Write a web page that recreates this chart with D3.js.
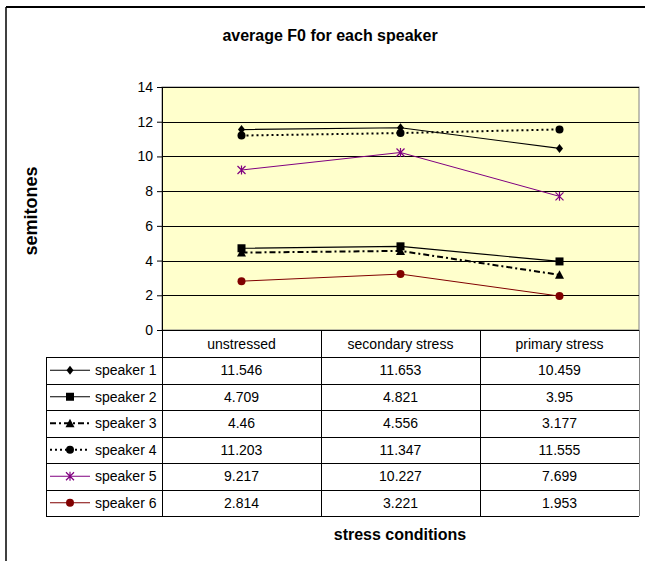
<!DOCTYPE html>
<html><head><meta charset="utf-8">
<script src="https://cdn.jsdelivr.net/npm/d3@7/dist/d3.min.js"></script>
<style>
html,body{margin:0;padding:0;background:#fff;}
svg{display:block;font-family:"Liberation Sans",Arial,sans-serif;}
</style></head>
<body>
<svg id="c" width="645" height="561"></svg>
<script>
const categories = ["unstressed", "secondary stress", "primary stress"];
const seriesNames = ["speaker 1", "speaker 2", "speaker 3", "speaker 4", "speaker 5", "speaker 6"];
const speaker1 = [11.546, 11.653, 10.459];
const speaker2 = [4.709, 4.821, 3.95];
const speaker3 = [4.46, 4.556, 3.177];
const speaker4 = [11.203, 11.347, 11.555];
const speaker5 = [9.217, 10.227, 7.699];
const speaker6 = [2.814, 3.221, 1.953];
const yTicks = [0, 2, 4, 6, 8, 10, 12, 14];

const styles = [
  {color:"#000", dash:null, marker:"diamond", w:1.2},
  {color:"#000", dash:null, marker:"square", w:1.2},
  {color:"#000", dash:"6,3,2,3", marker:"triangle", w:2},
  {color:"#000", dash:"2,3", marker:"circle", w:2},
  {color:"#800080", dash:null, marker:"asterisk", w:1},
  {color:"#800000", dash:null, marker:"circle", w:1}
];
const allSeries = [speaker1, speaker2, speaker3, speaker4, speaker5, speaker6];

const svg = d3.select("#c");
// outer frame (cropped)
svg.append("line").attr("x1",6).attr("x2",645).attr("y1",7).attr("y2",7).attr("stroke","#000").attr("stroke-width",2);
svg.append("line").attr("x1",6).attr("x2",6).attr("y1",7).attr("y2",561).attr("stroke","#000").attr("stroke-width",1.5);

const L = 162, R = 639, T = 87, B = 330;
const x = d3.scaleBand().domain(categories).range([L, R]);
const y = d3.scaleLinear().domain([0, 14]).range([B, T]);

svg.append("rect").attr("x",L).attr("y",T).attr("width",R-L).attr("height",B-T).attr("fill","#ffffcc").attr("stroke","#808080").attr("stroke-width",1);

// gridlines
svg.append("g").selectAll("line").data(yTicks.filter(d=>d>0)).join("line")
  .attr("x1",L).attr("x2",R).attr("y1",d=>Math.round(y(d))+0.5).attr("y2",d=>Math.round(y(d))+0.5)
  .attr("stroke","#000").attr("stroke-width",1);

// y axis
const yAxis = d3.axisLeft(y).tickValues(yTicks).tickSize(5).tickPadding(4);
const gy = svg.append("g").attr("transform",`translate(${L},0)`).call(yAxis);
gy.select(".domain").attr("stroke","#000");
gy.selectAll("text").attr("font-size",14).attr("fill","#000").attr("font-family","Liberation Sans, Arial, sans-serif");
gy.selectAll("line").attr("stroke","#000");

// markers
function drawMarker(g, type, cx, cy, color){
  if(type==="diamond"){
    g.append("path").attr("d",`M${cx},${cy-4.5}L${cx+3.5},${cy}L${cx},${cy+4.5}L${cx-3.5},${cy}Z`).attr("fill",color);
  } else if(type==="square"){
    g.append("rect").attr("x",cx-4).attr("y",cy-4).attr("width",8).attr("height",8).attr("fill",color);
  } else if(type==="triangle"){
    g.append("path").attr("d",`M${cx},${cy-4.5}L${cx+4.5},${cy+4}L${cx-4.5},${cy+4}Z`).attr("fill",color);
  } else if(type==="circle"){
    g.append("circle").attr("cx",cx).attr("cy",cy).attr("r",4).attr("fill",color);
  } else if(type==="asterisk"){
    const r=4;
    g.append("path").attr("d",`M${cx-r},${cy-r}L${cx+r},${cy+r}M${cx-r},${cy+r}L${cx+r},${cy-r}M${cx},${cy-r-0.5}L${cx},${cy+r+0.5}`)
      .attr("stroke",color).attr("stroke-width",1.2).attr("fill","none");
  }
}

const line = d3.line().x((d,i)=>x(categories[i])+x.bandwidth()/2).y(d=>y(d));
const plotG = svg.append("g");
allSeries.forEach((vals, si)=>{
  const st = styles[si];
  plotG.append("path").attr("d", line(vals)).attr("fill","none").attr("stroke",st.color)
    .attr("stroke-width",st.w).attr("stroke-dasharray",st.dash);
});
allSeries.forEach((vals, si)=>{
  const st = styles[si];
  vals.forEach((v,i)=>drawMarker(plotG, st.marker, x(categories[i])+x.bandwidth()/2, y(v), st.color));
});

// data table
const rowH = 26.5;
const headTop = B, headBot = 357;
const tG = svg.append("g");
const tL = 46;
const tBottom = headBot + rowH*seriesNames.length;
categories.forEach(c=>{
  tG.append("text").attr("x",x(c)+x.bandwidth()/2).attr("y",(headTop+headBot)/2+5)
    .attr("text-anchor","middle").attr("font-size",14).text(c);
});
[L, ...categories.slice(1).map(c=>x(c)), R].forEach((xx,i)=>{
  tG.append("line").attr("x1",Math.round(xx)+0.5).attr("x2",Math.round(xx)+0.5).attr("y1",headTop).attr("y2",tBottom)
    .attr("stroke", i===categories.length ? "#808080":"#000").attr("stroke-width",1);
});
tG.append("line").attr("x1",tL+0.5).attr("x2",tL+0.5).attr("y1",headBot).attr("y2",tBottom).attr("stroke","#000");
tG.append("line").attr("x1",L).attr("x2",R).attr("y1",headTop+0.5).attr("y2",headTop+0.5).attr("stroke","#000");
for(let r=0;r<=seriesNames.length;r++){
  const yy = Math.round(headBot + r*rowH)+0.5;
  tG.append("line").attr("x1",tL).attr("x2",R).attr("y1",yy).attr("y2",yy).attr("stroke","#000");
}
seriesNames.forEach((name, r)=>{
  const cy = headBot + r*rowH + rowH/2;
  const st = styles[r];
  tG.append("line").attr("x1",50).attr("x2",90).attr("y1",cy).attr("y2",cy).attr("stroke",st.color)
    .attr("stroke-width",st.w).attr("stroke-dasharray",st.dash);
  drawMarker(tG, st.marker, 70, cy, st.color);
  tG.append("text").attr("x",95).attr("y",cy+5).attr("font-size",14).text(name);
  allSeries[r].forEach((v,i)=>{
    tG.append("text").attr("x",x(categories[i])+x.bandwidth()/2).attr("y",cy+5)
      .attr("text-anchor","middle").attr("font-size",14).text(String(v));
  });
});

// titles
svg.append("text").attr("x",330).attr("y",41).attr("text-anchor","middle").attr("font-size",16)
  .attr("font-weight","bold").text("average F0 for each speaker");
svg.append("text").attr("x",400).attr("y",540).attr("text-anchor","middle").attr("font-size",16)
  .attr("font-weight","bold").text("stress conditions");
svg.append("text").attr("transform","translate(37,211) rotate(-90)").attr("text-anchor","middle").attr("font-size",18)
  .attr("font-weight","bold").text("semitones");
</script>
</body></html>
